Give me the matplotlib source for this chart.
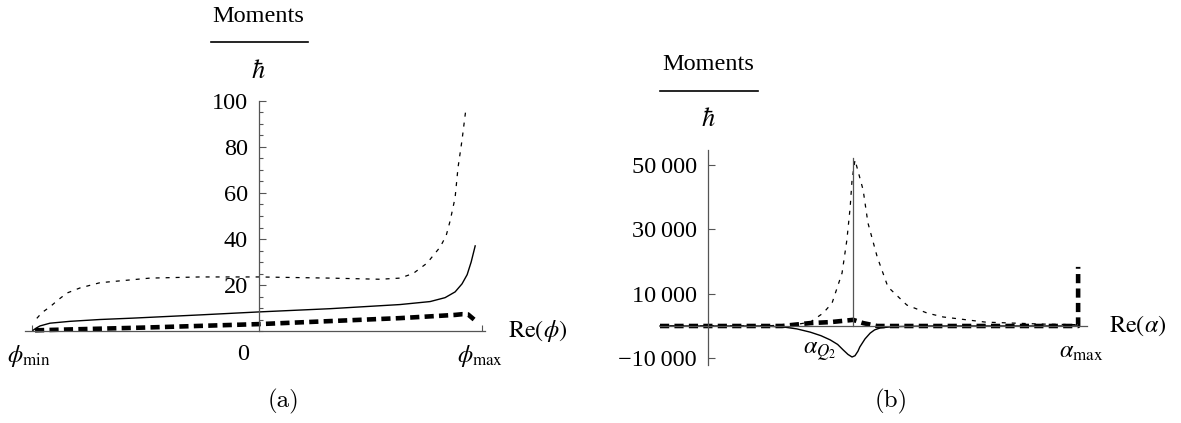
import matplotlib
matplotlib.use('Agg')
import matplotlib.pyplot as plt
from matplotlib.lines import Line2D
from matplotlib.ticker import MultipleLocator, NullLocator

plt.rcParams['font.family'] = ['Liberation Serif', 'DejaVu Serif']
plt.rcParams['mathtext.fontset'] = 'stix'

# Panel (a) data, x in units where phi_max = 1
phi_min = -1.018
phi_max = 1.0
dot_a_x = [-0.996, -0.973, -0.937, -0.901, -0.861, -0.803, -0.713, -0.489, -0.265, 0.0,
           0.318, 0.543, 0.632, 0.691, 0.753, 0.812, 0.839, 0.857, 0.879, 0.892, 0.910, 0.928]
dot_a_y = [5.5, 8.0, 10.5, 13.5, 16.5, 18.7, 21, 23, 23.5, 23.5,
           23, 22.5, 23, 25, 29.5, 36.5, 41.5, 48, 58, 71, 83, 97]
sol_a_x = [-1.013, -1.0, -0.982, -0.937, -0.848, -0.713, -0.565, -0.265, 0.0, 0.318,
           0.632, 0.767, 0.834, 0.879, 0.910, 0.933, 0.951, 0.969]
sol_a_y = [0.3, 1.2, 2.2, 3.4, 4.2, 5.0, 5.6, 7.0, 8.3, 9.7,
           11.5, 12.8, 14.5, 17.0, 20.5, 24.5, 30.0, 37.0]
dsh_a_x = [-1.004, -0.511, 0.0, 0.632, 0.879, 0.91, 0.937, 0.964]
dsh_a_y = [0.3, 1.5, 3.0, 5.6, 7.0, 7.3, 7.2, 5.0]
ticks_a = [20, 40, 60, 80, 100]

# Panel (b) data, x in units where alpha_max = 1
alpha_q2 = 0.392
alpha_max = 1.0
dot_b_x = [-0.13, 0.15, 0.22, 0.25, 0.276, 0.311, 0.335, 0.362, 0.375, 0.384, 0.389, 0.397,
           0.419, 0.432, 0.457, 0.486, 0.537, 0.592, 0.635, 0.75, 0.9, 1.0]
dot_b_y = [0, 0, 400, 700, 1200, 4000, 7100, 16400, 26600, 36800, 45200, 51400,
           42100, 31900, 21400, 12100, 6500, 4000, 2800, 1200, 600, 400]
sol_b_x = [-0.13, 0.15, 0.203, 0.24, 0.276, 0.305, 0.33, 0.35, 0.365, 0.378, 0.389, 0.397,
           0.405, 0.41, 0.424, 0.438, 0.45, 0.465, 0.5, 0.6, 1.0]
sol_b_y = [0, 0, -300, -900, -1900, -3000, -4300, -5700, -7400, -8800, -9600, -9200,
           -7800, -6500, -4000, -2200, -1200, -600, -200, 0, 0]
dsh_b_x = [-0.13, 0.2, 0.276, 0.33, 0.392, 0.419, 0.457, 0.995, 1.0, 1.0]
dsh_b_y = [0, 0, 900, 1200, 1900, 900, 0, 0, 0, 18300]
peak_b = 52000
ticks_b = [-10000, 10000, 30000, 50000]
ticklabels_b = ['\u221210\u2009000', '10\u2009000', '30\u2009000', '50\u2009000']

W, H = 1181, 423
FS = 17.5
fig = plt.figure(figsize=(W / 100, H / 100), dpi=100)


def box(l, r, t, b):
    return [l / W, 1 - b / H, (r - l) / W, (b - t) / H]


axis_col = '#555555'


def style_axes(ax, ybounds):
    for s in ['top', 'right']:
        ax.spines[s].set_visible(False)
    ax.spines['left'].set_position(('data', 0))
    ax.spines['bottom'].set_position(('data', 0))
    ax.spines['left'].set_bounds(*ybounds)
    for s in ['left', 'bottom']:
        ax.spines[s].set_color(axis_col)
        ax.spines[s].set_linewidth(0.9)
    ax.tick_params(axis='both', which='both', direction='in', color=axis_col, width=0.8)
    ax.tick_params(axis='y', which='major', length=5, pad=8, labelsize=FS)
    ax.tick_params(axis='y', which='minor', length=3)
    ax.tick_params(axis='x', which='major', length=4, labelbottom=False)
    ax.patch.set_alpha(0)


def curves(ax, dx, dy, sx, sy, kx, ky):
    ax.plot(dx, dy, color='black', lw=0.9, dashes=(3.2, 4.8), clip_on=False)
    ax.plot(sx, sy, color='black', lw=1.0, clip_on=False)
    ax.plot(kx, ky, color='black', lw=3.3, dashes=(2.0, 1.15), solid_capstyle='butt',
            dash_capstyle='butt', clip_on=False)


def xlabel(ax, x, text, dx, dy, ha='center'):
    ax.annotate(text, xy=(x, 0), xytext=(dx, -dy), textcoords='offset pixels',
                ha=ha, va='center', fontsize=FS, annotation_clip=False)


def fraction(cx, y_top, l, r):
    fig.text(cx / W, 1 - y_top / H, 'Moments', ha='center', va='center', fontsize=FS)
    fig.add_artist(Line2D([l / W, r / W], [1 - (y_top + 26) / H] * 2, color='black', lw=1.2))
    fig.text(cx / W, 1 - (y_top + 55) / H, r'$\hbar$', ha='center', va='center', fontsize=19)


# Panel (a)
ax1 = fig.add_axes(box(25, 485, 98, 336))
curves(ax1, dot_a_x, dot_a_y, sol_a_x, sol_a_y, dsh_a_x, dsh_a_y)
ax1.set_xlim(-1.049, 1.013)
ax1.set_ylim(-2.17, 101.3)
style_axes(ax1, (0, 100))
ax1.set_yticks(ticks_a)
ax1.yaxis.set_minor_locator(MultipleLocator(5))
ax1.set_xticks([phi_min, phi_max])
xlabel(ax1, phi_min, r'$\phi_{\mathrm{min}}$', -3, 25)
xlabel(ax1, 0, '0', -16, 23)
xlabel(ax1, phi_max, r'$\phi_{\mathrm{max}}$', -2, 25)
xlabel(ax1, phi_max, r'$\mathrm{Re}(\phi)$', 26, 0, ha='left')
fraction(258, 16, 211, 308)
fig.text(283 / W, 1 - 401 / H, '(a)', family='cmr10', ha='center', va='center', fontsize=18)

# Panel (b)
ax2 = fig.add_axes(box(660, 1087, 148, 368))
curves(ax2, dot_b_x, dot_b_y, sol_b_x, sol_b_y, dsh_b_x, dsh_b_y)
ax2.plot([alpha_q2, alpha_q2], [0, peak_b], color=axis_col, lw=0.9)
ax2.set_xlim(-0.13, 1.024)
ax2.set_ylim(-13003, 55109)
style_axes(ax2, (-12074, 54490))
ax2.set_yticks(ticks_b, ticklabels_b)
ax2.yaxis.set_minor_locator(NullLocator())
ax2.set_xticks([alpha_max])
xlabel(ax2, alpha_q2, r'$\alpha_{Q_2}$', -33, 26)
xlabel(ax2, alpha_max, r'$\alpha_{\mathrm{max}}$', 3, 26)
xlabel(ax2, alpha_max, r'$\mathrm{Re}(\alpha)$', 31, 0, ha='left')
fraction(708, 65, 660, 758)
fig.text(891 / W, 1 - 401 / H, '(b)', family='cmr10', ha='center', va='center', fontsize=18)

fig.savefig('out.png', dpi=100)
